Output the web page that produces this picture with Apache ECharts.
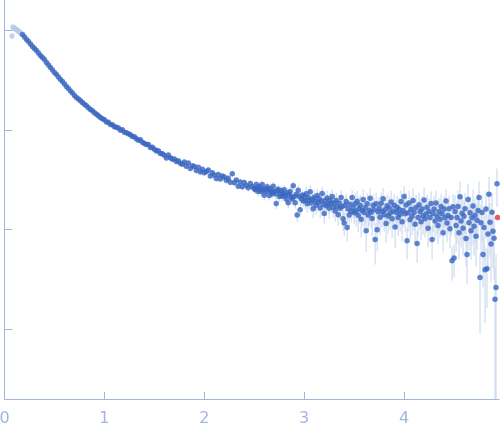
<!DOCTYPE html>
<html>
<head>
<meta charset="utf-8">
<script src="https://cdn.jsdelivr.net/npm/echarts@6/dist/echarts.min.js"></script>
<style>
  html, body { margin: 0; padding: 0; background: #fff; }
  #chart { width: 500px; height: 437px; }
</style>
</head>
<body>
<div id="chart"></div>
<script>
// scattering vector q (1/nm) of the points used in the fit
const qValues = [
  0.18,0.20,0.22,0.24,0.26,0.28,0.30,0.32,0.34,0.36,
  0.38,0.40,0.42,0.44,0.46,0.48,0.50,0.52,0.54,0.56,
  0.58,0.60,0.62,0.64,0.66,0.68,0.70,0.72,0.74,0.76,
  0.78,0.80,0.82,0.84,0.86,0.88,0.90,0.92,0.94,0.96,
  0.98,1.00,1.02,1.04,1.06,1.08,1.10,1.12,1.14,1.16,
  1.18,1.20,1.22,1.24,1.26,1.28,1.30,1.32,1.34,1.36,
  1.38,1.40,1.42,1.44,1.46,1.48,1.50,1.52,1.54,1.56,
  1.58,1.60,1.62,1.64,1.66,1.68,1.70,1.72,1.74,1.76,
  1.78,1.80,1.82,1.84,1.86,1.88,1.90,1.92,1.94,1.96,
  1.98,2.00,2.02,2.04,2.06,2.08,2.10,2.12,2.14,2.16,
  2.18,2.20,2.22,2.24,2.26,2.28,2.30,2.32,2.34,2.36,
  2.38,2.40,2.42,2.44,2.46,2.48,2.50,
  2.51,2.52,2.53,2.54,2.55,2.56,2.57,2.58,2.59,2.60,
  2.61,2.62,2.63,2.64,2.65,2.66,2.67,2.68,2.69,2.70,
  2.71,2.72,2.73,2.74,2.75,2.76,2.77,2.78,2.79,2.80,
  2.81,2.82,2.83,2.84,2.85,2.86,2.87,2.88,2.89,2.90,
  2.91,2.92,2.93,2.94,2.95,2.96,2.97,2.98,2.99,3.00,
  3.01,3.02,3.03,3.04,3.05,3.06,3.07,3.08,3.09,3.10,
  3.11,3.12,3.13,3.14,3.15,3.16,3.17,3.18,3.19,3.20,
  3.21,3.22,3.23,3.24,3.25,3.26,3.27,3.28,3.29,3.30,
  3.31,3.32,3.33,3.34,3.35,3.36,3.37,3.38,3.39,3.40,
  3.41,3.42,3.43,3.44,3.45,3.46,3.47,3.48,3.49,3.50,
  3.51,3.52,3.53,3.54,3.55,3.56,3.57,3.58,3.59,3.60,
  3.61,3.62,3.63,3.64,3.65,3.66,3.67,3.68,3.69,3.70,
  3.71,3.72,3.73,3.74,3.75,3.76,3.77,3.78,3.79,3.80,
  3.81,3.82,3.83,3.84,3.85,3.86,3.87,3.88,3.89,3.90,
  3.91,3.92,3.93,3.94,3.95,3.96,3.97,3.98,3.99,4.00,
  4.01,4.02,4.03,4.04,4.05,4.06,4.07,4.08,4.09,4.10,
  4.11,4.12,4.13,4.14,4.15,4.16,4.17,4.18,4.19,4.20,
  4.21,4.22,4.23,4.24,4.25,4.26,4.27,4.28,4.29,4.30,
  4.31,4.32,4.33,4.34,4.35,4.36,4.37,4.38,4.39,4.40,
  4.41,4.42,4.43,4.44,4.45,4.46,4.47,4.48,4.49,4.50,
  4.51,4.52,4.53,4.54,4.55,4.56,4.57,4.58,4.59,4.60,
  4.61,4.62,4.63,4.64,4.65,4.66,4.67,4.68,4.69,4.70,
  4.71,4.72,4.73,4.74,4.75,4.76,4.77,4.78,4.79,4.80,
  4.81,4.82,4.83,4.84,4.85,4.86,4.87,4.88,4.89,4.90,
  4.91,4.92,4.93
];

// intensity I(q), arbitrary units
const intensity = [
  0.902,0.851,0.804,0.767,0.724,0.684,0.653,0.624,0.589,0.556,
  0.531,0.507,0.473,0.447,0.422,0.398,0.376,0.359,0.339,0.320,
  0.305,0.288,0.272,0.260,0.245,0.234,0.221,0.211,0.204,0.195,
  0.188,0.180,0.174,0.166,0.160,0.155,0.148,0.143,0.138,0.133,
  0.129,0.126,0.120,0.119,0.113,0.112,0.107,0.106,0.104,0.0989,
  0.100,0.0944,0.0933,0.0912,0.0890,0.0856,0.0850,0.0815,0.0785,0.0795,
  0.0750,0.0730,0.0710,0.0710,0.0665,0.0670,0.0638,0.0612,0.0615,0.0578,
  0.0575,0.0555,0.0520,0.0560,0.0525,0.0505,0.0510,0.0482,0.0490,0.0462,
  0.0452,0.0476,0.0432,0.0465,0.0410,0.0437,0.0428,0.0390,0.0420,0.0378,
  0.0402,0.0370,0.0381,0.0395,0.0345,0.0370,0.0352,0.0325,0.0356,0.0321,
  0.0345,0.0336,0.0312,0.0326,0.0298,0.0363,0.0295,0.0313,0.0272,0.0300,
  0.0268,0.0296,0.0276,0.0262,0.0290,0.0270,0.0258,
  0.0251,0.0282,0.0257,0.0240,0.0272,0.0257,0.0240,0.0282,0.0251,0.0221,
  0.0257,0.0240,0.0269,0.0251,0.0219,0.0257,0.0240,0.0229,0.0272,0.0240,
  0.0229,0.0182,0.0245,0.0254,0.0214,0.0229,0.0245,0.0216,0.0229,0.0251,
  0.0219,0.0202,0.0232,0.0186,0.0224,0.0240,0.0211,0.0202,0.0275,0.0214,
  0.0186,0.0224,0.0140,0.0248,0.0214,0.0158,0.0204,0.0222,0.0193,0.0215,
  0.0195,0.0229,0.0181,0.0210,0.0195,0.0239,0.0184,0.0200,0.0162,0.0211,
  0.0192,0.0175,0.0219,0.0186,0.0204,0.0164,0.0193,0.0230,0.0178,0.0145,
  0.0195,0.0173,0.0207,0.0180,0.0163,0.0196,0.0183,0.0214,0.0166,0.0185,
  0.0153,0.0196,0.0170,0.0141,0.0185,0.0163,0.0209,0.0170,0.0128,0.0116,
  0.0175,0.0191,0.0105,0.0161,0.0140,0.0179,0.0152,0.0209,0.0165,0.0147,
  0.0181,0.0153,0.0192,0.0139,0.0162,0.0175,0.0127,0.0155,0.0200,0.0148,
  0.0165,0.00973,0.0181,0.0140,0.0156,0.0206,0.0149,0.0129,0.0175,0.0158,
  0.00794,0.0181,0.00993,0.0150,0.0163,0.0133,0.0183,0.0152,0.0204,0.0141,
  0.0158,0.0115,0.0173,0.0137,0.0164,0.0146,0.0189,0.0128,0.0153,0.0175,
  0.0106,0.0149,0.0167,0.0132,0.0159,0.0142,0.0191,0.0120,0.0155,0.0214,
  0.0144,0.0176,0.00773,0.0147,0.0185,0.0125,0.0160,0.0136,0.0196,0.0149,
  0.0113,0.0166,0.00724,0.0132,0.0177,0.0151,0.0120,0.0161,0.0137,0.0198,
  0.0128,0.0143,0.0167,0.0103,0.0152,0.0132,0.0182,0.00794,0.0145,0.0161,
  0.0122,0.0185,0.0136,0.0110,0.0152,0.0127,0.0170,0.0144,0.00929,0.0161,
  0.0131,0.0193,0.0116,0.0138,0.0162,0.0102,0.0132,0.00487,0.0169,0.00519,
  0.0152,0.0110,0.0132,0.0170,0.00931,0.0213,0.0122,0.0146,0.0103,0.0136,
  0.0162,0.00815,0.00562,0.0200,0.0117,0.0147,0.00971,0.0131,0.0172,0.0108,
  0.0139,0.00857,0.0124,0.0155,0.0209,0.00331,0.0117,0.0148,0.00562,0.0105,
  0.00396,0.0161,0.00404,0.00904,0.0226,0.0118,0.00714,0.0149,0.00959,0.00817,
  0.00200,0.00263,0.0288
];

// standard error of I(q)
const errors = [
  0.011,0.010,0.0097,0.0092,0.0087,0.0082,0.0078,0.0075,0.0071,0.0067,
  0.0064,0.0061,0.0057,0.0054,0.0051,0.0048,0.0045,0.0043,0.0041,0.0038,
  0.0037,0.0035,0.0033,0.0031,0.0029,0.0028,0.0027,0.0025,0.0024,0.0023,
  0.0023,0.0022,0.0021,0.0020,0.0019,0.0019,0.0018,0.0017,0.0017,0.0016,
  0.0015,0.0015,0.0030,0.0030,0.0028,0.0028,0.0027,0.0027,0.0026,0.0025,
  0.0025,0.0024,0.0023,0.0023,0.0022,0.0022,0.0021,0.0021,0.0020,0.0019,
  0.0019,0.0018,0.0018,0.0017,0.0017,0.0017,0.0016,0.0016,0.0015,0.0015,
  0.0014,0.0014,0.0027,0.0027,0.0026,0.0026,0.0025,0.0025,0.0023,0.0024,
  0.0023,0.0023,0.0022,0.0022,0.0021,0.0022,0.0021,0.0020,0.0021,0.0019,
  0.0024,0.0023,0.0022,0.0023,0.0021,0.0022,0.0021,0.0020,0.0021,0.0020,
  0.0024,0.0022,0.0023,0.0021,0.0023,0.0025,0.0020,0.0021,0.0020,0.0021,
  0.0022,0.0023,0.0022,0.0023,0.0021,0.0022,0.0021,
  0.0025,0.0027,0.0026,0.0025,0.0026,0.0024,0.0025,0.0028,0.0026,0.0024,
  0.0026,0.0025,0.0027,0.0025,0.0024,0.0026,0.0025,0.0025,0.0028,0.0025,
  0.0025,0.0022,0.0026,0.0026,0.0024,0.0025,0.0026,0.0024,0.0025,0.0027,
  0.0025,0.0024,0.0026,0.0023,0.0026,0.0027,0.0025,0.0025,0.0029,0.0026,
  0.0024,0.0027,0.0021,0.0028,0.0026,0.0023,0.0026,0.0027,0.0025,0.0027,
  0.0036,0.0039,0.0034,0.0037,0.0036,0.0040,0.0035,0.0036,0.0032,0.0037,
  0.0036,0.0034,0.0039,0.0035,0.0037,0.0033,0.0036,0.0040,0.0035,0.0031,
  0.0037,0.0035,0.0038,0.0035,0.0034,0.0037,0.0036,0.0039,0.0034,0.0036,
  0.0033,0.0038,0.0035,0.0032,0.0037,0.0035,0.0039,0.0036,0.0031,0.0030,
  0.0036,0.0038,0.0029,0.0035,0.0033,0.0037,0.0034,0.0040,0.0036,0.0034,
  0.0050,0.0046,0.0052,0.0044,0.0047,0.0049,0.0043,0.0047,0.0053,0.0046,
  0.0048,0.0038,0.0051,0.0045,0.0047,0.0054,0.0046,0.0044,0.0050,0.0048,
  0.0035,0.0051,0.0039,0.0047,0.0049,0.0045,0.0052,0.0047,0.0055,0.0046,
  0.0049,0.0042,0.0051,0.0046,0.0050,0.0047,0.0054,0.0045,0.0049,0.0052,
  0.0041,0.0048,0.0051,0.0046,0.0050,0.0047,0.0055,0.0044,0.0050,0.0058,
  0.0050,0.0057,0.0027,0.0051,0.0060,0.0044,0.0054,0.0048,0.0062,0.0052,
  0.0040,0.0056,0.0026,0.0046,0.0058,0.0052,0.0042,0.0055,0.0048,0.0063,
  0.0045,0.0050,0.0056,0.0037,0.0053,0.0046,0.0060,0.0029,0.0051,0.0055,
  0.0043,0.0061,0.0048,0.0039,0.0053,0.0045,0.0057,0.0050,0.0034,0.0055,
  0.0046,0.0062,0.0041,0.0048,0.0055,0.0037,0.0046,0.0018,0.0057,0.0019,
  0.0068,0.0050,0.0060,0.0075,0.0043,0.0090,0.0056,0.0066,0.0048,0.0062,
  0.0072,0.0039,0.0028,0.0086,0.0055,0.0067,0.0047,0.0062,0.0078,0.0053,
  0.0066,0.0043,0.0061,0.0073,0.0094,0.0024,0.0060,0.0072,0.0030,0.0055,
  0.0028,0.0080,0.0024,0.0050,0.0110,0.0065,0.0042,0.0080,0.0055,0.0050,
  0.0022,0.0030,0.0120
];

// low-q points left out of the fit (drawn pale)
const qExcluded = [0.075,0.085,0.095,0.105,0.115,0.125,0.135,0.145,0.155,0.165];
const iExcluded = [0.871,1.072,1.047,1.035,1.012,1.000,0.977,0.966,0.944,0.923];
const eExcluded = [0.060,0.012,0.012,0.012,0.012,0.012,0.011,0.011,0.011,0.011];

// highlighted point (red)
const qHighlight = [4.935];
const iHighlight = [0.0132];

const xTicks = [0, 1, 2, 3, 4];
const yTicks = [0.001, 0.01, 0.1, 1];
const yMin = 0.0002;
const yMax = 2;

const axisColor = '#a3b6e0';

function toPoints(q, I, e) {
  return q.map((x, i) => (e ? [x, I[i], e[i]] : [x, I[i]]));
}

function errorBar(color) {
  return function (params, api) {
    const x = api.value(0);
    const y = api.value(1);
    const s = api.value(2);
    const top = api.coord([x, Math.min(y + s, yMax)]);
    const bottom = api.coord([x, Math.max(y - s, yMin)]);
    return {
      type: 'line',
      shape: { x1: top[0], y1: top[1], x2: bottom[0], y2: bottom[1] },
      style: { stroke: color, lineWidth: 1 }
    };
  };
}

const chart = echarts.init(document.getElementById('chart'));

chart.setOption({
  animation: false,
  grid: { left: 4.5, right: 1, top: 0, bottom: 38, outerBoundsMode: 'none', containLabel: false },
  xAxis: {
    type: 'value',
    min: 0,
    max: 4.95,
    interval: 1,
    axisLine: { lineStyle: { color: axisColor, width: 1 } },
    axisTick: { inside: true, length: 7, lineStyle: { color: axisColor }, customValues: xTicks },
    axisLabel: {
      color: axisColor, fontSize: 16, fontFamily: 'DejaVu Sans', margin: 12,
      customValues: xTicks
    },
    splitLine: { show: false }
  },
  yAxis: {
    type: 'log',
    logBase: 10,
    min: yMin,
    max: yMax,
    axisLine: { show: true, lineStyle: { color: axisColor, width: 1 } },
    axisTick: { show: true, inside: true, length: 8, lineStyle: { color: axisColor }, customValues: yTicks },
    axisLabel: { show: false },
    splitLine: { show: false }
  },
  series: [
    {
      type: 'custom',
      renderItem: errorBar('#dbe4f5'),
      data: toPoints(qExcluded, iExcluded, eExcluded),
      encode: { x: 0, y: 1 },
      clip: true,
      silent: true,
      z: 1
    },
    {
      type: 'custom',
      renderItem: errorBar('#c6d4ee'),
      data: toPoints(qValues, intensity, errors),
      encode: { x: 0, y: 1 },
      clip: true,
      silent: true,
      z: 2
    },
    {
      type: 'scatter',
      data: toPoints(qExcluded, iExcluded),
      symbol: 'circle',
      symbolSize: 5.5,
      itemStyle: { color: '#b8c9ea' },
      silent: true,
      z: 3
    },
    {
      type: 'scatter',
      data: toPoints(qValues, intensity),
      symbol: 'circle',
      symbolSize: 5.5,
      itemStyle: { color: '#3a66c0' },
      silent: true,
      z: 4
    },
    {
      type: 'scatter',
      data: toPoints(qHighlight, iHighlight),
      symbol: 'circle',
      symbolSize: 5.5,
      itemStyle: { color: '#e8303a' },
      silent: true,
      z: 5
    }
  ]
});
</script>
</body>
</html>
